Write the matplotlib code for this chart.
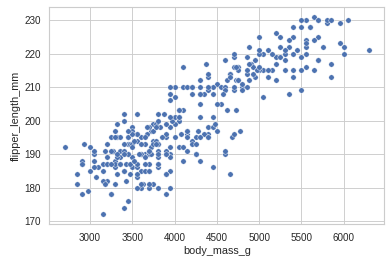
import numpy as np
import matplotlib
matplotlib.use("Agg")
import matplotlib.pyplot as plt
import seaborn as sns

# penguins: (flipper_length_mm, body_mass_g) read per species
adelie_flipper = [181, 186, 195, 193, 190, 181, 195, 193, 190, 186, 180, 182, 191, 198, 185, 195, 197, 184, 194,
                  174, 180, 189, 185, 180, 187, 183, 187, 172, 180,
                  178, 178, 188, 184, 195, 196, 190, 180, 181, 184, 182, 195, 186, 196, 185, 190, 182, 179, 190, 191,
                  186, 188, 190, 200, 187, 191, 186, 193, 181, 194, 185, 195, 185, 192, 184, 192, 195, 188, 190, 198,
                  190, 190, 196, 197, 190, 195, 191, 184, 187, 195, 189, 196, 187, 193, 191, 194, 190, 189, 189, 190,
                  202, 205, 185, 186, 187, 208, 190, 196, 178, 192, 192, 203, 183, 190, 193, 184, 199, 190, 181, 197,
                  198, 191, 193, 197, 191, 196, 188, 199, 189, 189,
                  187, 198, 176, 202, 186, 199, 191, 195, 191, 210, 190, 197, 193, 199, 187, 190, 191, 200, 185, 193,
                  193, 187, 188, 190, 192, 185, 190, 184, 195, 193, 187, 201]
adelie_mass = [3750, 3800, 3250, 3450, 3650, 3625, 4675, 3475, 4250, 3300, 3700, 3200, 3800, 4400, 3700, 3450, 4500, 3325, 4200,
               3400, 3600, 3800, 3950, 3800, 3800, 3550, 3200, 3150, 3950,
               3250, 3900, 3300, 3900, 3325, 4150, 3950, 3550, 3300, 4650, 3150, 3900, 3100, 4400, 3000, 4600, 3425, 2975, 3450, 4150,
               3500, 4300, 3450, 4050, 2900, 3700, 3550, 3800, 2850, 3750, 3150, 4400, 3600, 4050, 2850, 3950, 3350, 4100, 3050, 4450,
               3600, 3900, 3550, 4150, 3700, 4250, 3700, 3900, 3550, 4000, 3200, 4700, 3800, 4200, 3350, 3550, 3800, 3500, 3950, 3600,
               3550, 4300, 3400, 4450, 3300, 4300, 3700, 4350, 2900, 4100, 3725, 4725, 3075, 4250, 2925, 3550, 3750, 3900, 3175, 4775,
               3825, 4600, 3200, 4275, 3900, 4075, 2900, 3775, 3350, 3325,
               3150, 3500, 3450, 3875, 3050, 4000, 3275, 4300, 3050, 4000, 3325, 3500, 3500, 4475, 3425, 3900, 3175, 3975, 3400, 4250,
               3400, 3475, 3050, 3725, 3000, 3650, 4250, 3475, 3450, 3750, 3700, 4000]

chinstrap_flipper = [192, 196, 193, 188, 197, 198, 178, 197, 195, 198, 193, 194, 185, 201, 190, 201, 197, 181, 190, 195,
                     181, 191, 187, 193, 195, 197, 200, 200, 191, 205, 187, 201, 187, 203, 195, 199, 195, 210, 192, 205,
                     210, 187, 196, 196, 196, 201, 190, 212, 187, 198, 199, 201, 193, 203, 187, 197, 191, 203, 202, 194,
                     206, 189, 195, 207, 202, 193, 210, 198]
chinstrap_mass = [3500, 3900, 3650, 3525, 3725, 3950, 3250, 3750, 4150, 3700, 3800, 3775, 3700, 4050, 3575, 4050, 3300, 3700, 3450, 4400,
                  3600, 3400, 2900, 3800, 3300, 4150, 3400, 3800, 3700, 4550, 3200, 4300, 3350, 4100, 3600, 3900, 3850, 4800, 2700, 4500,
                  3950, 3650, 3550, 3500, 3675, 4450, 3400, 4300, 3250, 3675, 3325, 3950, 3600, 4050, 3350, 3450, 3250, 4050, 3800, 3525,
                  3950, 3650, 3650, 4000, 3400, 3775, 4100, 3775]

gentoo_flipper = [211, 230, 210, 218, 215, 210, 211, 219, 209, 215, 214, 216, 214, 213, 210, 217, 210, 221, 209, 222,
                  218, 215, 213, 215, 215, 215, 216, 215, 210, 220, 222, 209, 207, 230, 220, 220, 213, 219, 208, 208,
                  208, 225, 210, 216, 222, 217, 210, 225, 213, 215, 210, 220, 210, 225, 217, 220, 208, 220, 208, 224,
                  208, 221, 214, 231, 219, 230, 214, 229, 220, 223, 216, 221, 221, 217, 216, 230, 209, 220, 215, 223,
                  212, 221, 212, 224, 212, 228, 218, 218, 212, 230, 218, 228, 212, 224, 214, 226, 216, 222, 203, 225,
                  219, 228, 215, 228, 216, 215, 210, 219, 208, 209, 216, 229, 213, 230, 217, 230, 217, 222, 214, 215,
                  222, 212, 213]
gentoo_mass = [4500, 5700, 4450, 5700, 5400, 4550, 4800, 5200, 4400, 5150, 4650, 5550, 4650, 5850, 4200, 5850, 4150, 6300, 4800, 5350,
               5700, 5000, 4400, 5050, 5000, 5100, 4100, 5650, 4600, 5550, 5250, 4700, 5050, 6050, 5150, 5400, 4950, 5250, 4350, 5350,
               3950, 5700, 4300, 4750, 5550, 4900, 4200, 5400, 5100, 5300, 4850, 5300, 4400, 5000, 4900, 5050, 4300, 5000, 4450, 5550,
               4200, 5300, 4400, 5650, 4700, 5700, 4650, 5800, 4700, 5550, 4750, 5000, 5100, 5200, 4700, 5800, 4600, 6000, 4750, 5950,
               4625, 5450, 4725, 5350, 4750, 5600, 4600, 5300, 4875, 5550, 4950, 5400, 4750, 5650, 4850, 5200, 4925, 4875, 4625, 5250,
               4850, 5600, 4975, 5500, 4725, 5500, 4700, 5500, 4575, 5500, 5000, 5950, 4650, 5500, 4375, 5850, 4875, 6000, 4925, 4850,
               5750, 5200, 5400]

body_mass_g = np.array(adelie_mass + chinstrap_mass + gentoo_mass)
flipper_length_mm = np.array(adelie_flipper + chinstrap_flipper + gentoo_flipper)

sns.set_theme(style="whitegrid")
plt.rcParams['font.family'] = ['Liberation Sans', 'DejaVu Sans']

fig = plt.figure(figsize=(391 / 65, 265 / 65), dpi=65)
ax = fig.add_axes([49.4 / 391, 1 - 224.2 / 265, (384.4 - 49.4) / 391, (224.2 - 6.8) / 265])
sns.scatterplot(x=body_mass_g, y=flipper_length_mm, ax=ax)
ax.set_xlabel("body_mass_g")
ax.set_ylabel("flipper_length_mm")

fig.savefig("out.png", dpi=65)
